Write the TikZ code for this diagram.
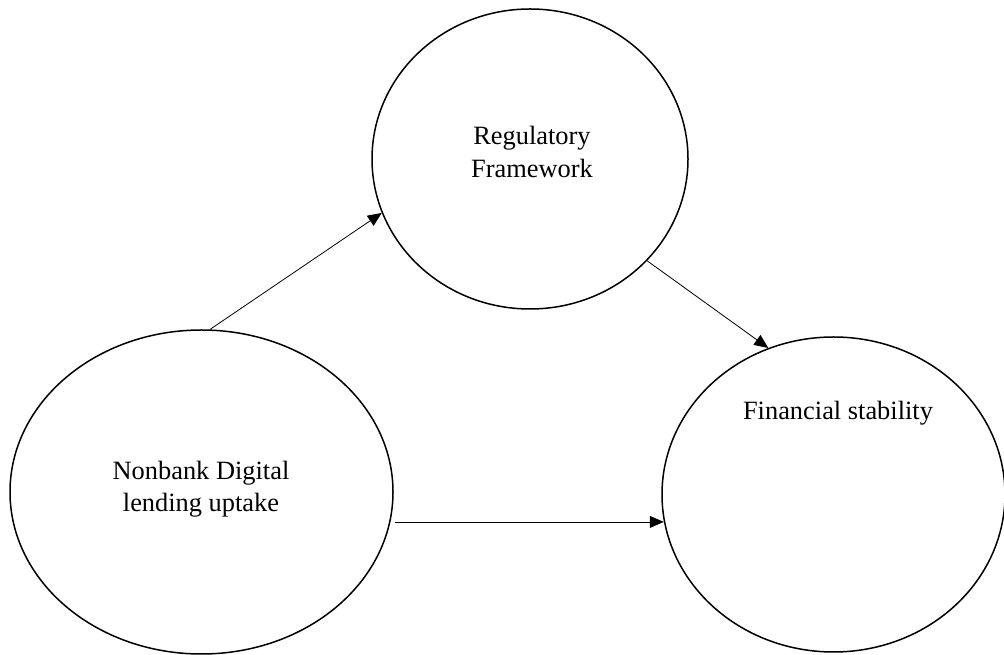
\documentclass[tikz,border=0pt]{standalone}
\usepackage{fontspec}
\setmainfont{Liberation Serif}
\usetikzlibrary{shapes.geometric,arrows.meta}
\begin{document}
\begin{tikzpicture}[x=1pt,y=1pt,
  oval/.style={ellipse,draw,line width=1.5pt,inner sep=0pt},
  lbl/.style={align=center,font=\fontsize{26.4}{32.5}\selectfont},
  link/.style={line width=0.8pt,-{Triangle[length=14pt,width=12pt]}}]
\useasboundingbox (0,0) rectangle (1004,655);
\node[oval,minimum width=383pt,minimum height=324pt] (N) at (201.5,163) {};
\node[oval,minimum width=316pt,minimum height=300pt] (R) at (530,496) {};
\node[oval,minimum width=343pt,minimum height=315pt] (F) at (833.5,160.5) {};
\node[lbl] (Nt) at (201,166) {Nonbank Digital\\lending uptake};
\node[lbl] (Rt) at (532,503) {Regulatory\\Framework};
\node[lbl] (Ft) at (838,242) {Financial stability};
\draw[link] (N.87.7) -- (R.200.6);
\draw[link] (R.319.8) -- (F.114.1);
\draw[link,shorten <=5pt] (N.-9.1) -- (N.-9.1 -| F.189.6);
\end{tikzpicture}
\end{document}
